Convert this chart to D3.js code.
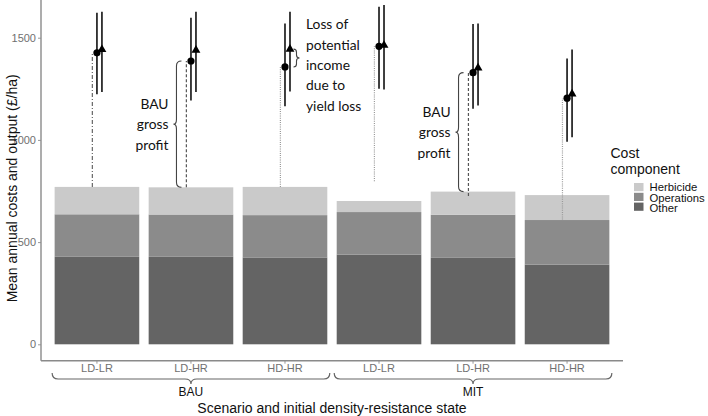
<!DOCTYPE html>
<html><head><meta charset="utf-8">
<script src="https://cdn.jsdelivr.net/npm/d3@7"></script>
<style>body{margin:0;background:#fff}svg{display:block}</style>
</head><body><svg id="c" width="708" height="416"></svg>
<script>
// ---- data ----
const categories = ["LD-LR","LD-HR","HD-HR","LD-LR","LD-HR","HD-HR"];
const scenarios = ["BAU","MIT"];
const scenarioOf = ["BAU","BAU","BAU","MIT","MIT","MIT"];
const components = ["Herbicide","Operations","Other"];
const other      = [428, 428, 425, 439, 423, 390];
const operations = [208, 207, 207, 208, 211, 218];
const herbicide  = [134, 133, 138, 54, 113, 122];
const circleVal  = [1426, 1386, 1357, 1458, 1329, 1204];
const circleLow  = [1223, 1193, 1165, 1250, 1152, 991];
const circleHigh = [1622, 1598, 1570, 1652, 1567, 1398];
const triVal     = [1442, 1439, 1444, 1463, 1352, 1225];
const triLow     = [1234, 1234, 1237, 1247, 1168, 1013];
const triHigh    = [1627, 1627, 1627, 1660, 1570, 1442];
const refLow     = [770, 768, 770, 798, 726, 610];
const refType    = ["dashdot","dashed","dotted","dotted","dashed","dotted"];
const yTicks = [0, 500, 1000, 1500];

const svg = d3.select("#c");
const pLeft = 41, pRight = 623, pTop = 0, pBottom = 360.7;
const idx = d3.range(categories.length);
const x = d3.scaleBand().domain(idx).range([pLeft, pRight]).paddingInner(0.1).paddingOuter(0.145);
const y = d3.scaleLinear().domain([0, 1500]).range([344.3, 37.7]);
const colors = {Herbicide:"#cacaca", Operations:"#8b8b8b", Other:"#646464"};
const annFont = "Lato, 'Open Sans', sans-serif";
const axFont = "'Liberation Sans', Arial, sans-serif";

// stacked bars
const rows = idx.map(i => ({i, Other: other[i], Operations: operations[i], Herbicide: herbicide[i]}));
const stack = d3.stack().keys(["Other","Operations","Herbicide"])(rows);
svg.append("g").selectAll("g").data(stack).join("g")
  .attr("fill", d => colors[d.key])
  .selectAll("rect").data(d => d).join("rect")
  .attr("x", d => x(d.data.i)).attr("width", x.bandwidth())
  .attr("y", d => y(d[1])).attr("height", d => y(d[0]) - y(d[1]));

// reference lines
const dashes = {dashdot:"4,2,1,2", dashed:"3,2", dotted:"1,1.2"};
const dashCol = {dashdot:"#666", dashed:"#555", dotted:"#999"};
svg.append("g").selectAll("line").data(idx).join("line")
  .attr("x1", i => x(i) + x.bandwidth()/2 - 4.6).attr("x2", i => x(i) + x.bandwidth()/2 - 4.6)
  .attr("y1", i => y(refLow[i])).attr("y2", i => y(circleVal[i]))
  .attr("stroke", i => dashCol[refType[i]]).attr("stroke-width", 1.2)
  .attr("stroke-dasharray", i => dashes[refType[i]]);

// error bars and points
const cx = i => x(i) + x.bandwidth()/2;
const g = svg.append("g");
g.selectAll("line.ec").data(idx).join("line").attr("class","ec")
  .attr("x1", i => cx(i)).attr("x2", i => cx(i))
  .attr("y1", i => y(circleLow[i])).attr("y2", i => y(circleHigh[i]))
  .attr("stroke", "#000").attr("stroke-width", 1.5);
g.selectAll("line.et").data(idx).join("line").attr("class","et")
  .attr("x1", i => cx(i) + 5).attr("x2", i => cx(i) + 5)
  .attr("y1", i => y(triLow[i])).attr("y2", i => y(triHigh[i]))
  .attr("stroke", "#000").attr("stroke-width", 1.5);
g.selectAll("circle").data(idx).join("circle")
  .attr("cx", i => cx(i)).attr("cy", i => y(circleVal[i])).attr("r", 3.6).attr("fill", "#000");
const tri = d3.symbol().type(d3.symbolTriangle).size(34);
g.selectAll("path.tri").data(idx).join("path").attr("class","tri")
  .attr("d", tri).attr("transform", i => `translate(${cx(i)+5},${y(triVal[i])})`).attr("fill", "#000");

// brace helper: along-axis a..b, tip at m; across: base(end), mid(line), tip
function bracePath(a, b, m, base, mid, tipc, r, vertical) {
  const sa = Math.sign(b - a);
  const P = (u, v) => vertical ? `${v},${u}` : `${u},${v}`;
  return `M${P(a, base)}Q${P(a, mid)} ${P(a + sa*r, mid)}L${P(m - sa*r, mid)}Q${P(m, mid)} ${P(m, tipc)}` +
         `M${P(b, base)}Q${P(b, mid)} ${P(b - sa*r, mid)}L${P(m + sa*r, mid)}Q${P(m, mid)} ${P(m, tipc)}`;
}
const braceG = svg.append("g").attr("fill","none").attr("stroke","#444").attr("stroke-width",1.1);
// BAU gross profit braces (bars 2 and 5)
[1, 4].forEach(i => {
  const t0 = y(circleVal[i]), b0 = y(other[i] + operations[i] + herbicide[i]);
  const lx = x(i) + x.bandwidth()/2 - 14.5;
  braceG.append("path").attr("d", bracePath(t0, b0, (t0+b0)/2, lx + 5, lx, lx - 3, 5, true));
  const t = svg.append("text").attr("text-anchor","end").attr("font-family", annFont)
    .attr("font-size", 13.8).attr("fill","#111");
  ["BAU","gross","profit"].forEach((s, k) => t.append("tspan").attr("x", lx - 8)
    .attr("y", (t0+b0)/2 - 20 + k*20.4).attr("dy","0.35em").text(s));
});
// Loss of potential income brace (bar 3)
{
  const i = 2, t1 = y(triVal[i]), c1 = y(circleVal[i]);
  const lx = x(i) + x.bandwidth()/2 + 11.5;
  braceG.append("path").attr("d", bracePath(t1, c1, (t1+c1)/2, lx - 3, lx, lx + 3, 3, true));
  const t = svg.append("text").attr("font-family", annFont)
    .attr("font-size", 13.8).attr("fill","#111");
  ["Loss of","potential","income","due to","yield loss"].forEach((s, k) => t.append("tspan")
    .attr("x", lx + 9.5).attr("y", 24.3 + k*20.4).attr("dy","0.35em").text(s));
}

// axes
const axisCol = "#8a8a8a";
const yAxis = svg.append("g").attr("transform", `translate(${pLeft},0)`)
  .call(d3.axisLeft(y).tickValues(yTicks).tickSize(3).tickPadding(2).tickFormat(d3.format("d")));
yAxis.select(".domain").remove();
svg.append("line").attr("x1", pLeft).attr("x2", pLeft).attr("y1", pTop).attr("y2", pBottom)
  .attr("stroke", axisCol).attr("stroke-width", 1.4);
const xAxis = svg.append("g").attr("transform", `translate(0,${pBottom})`)
  .call(d3.axisBottom(x).tickFormat(i => categories[i]).tickSize(3).tickPadding(1));
xAxis.select(".domain").remove();
svg.append("line").attr("x1", pLeft).attr("x2", pRight).attr("y1", pBottom).attr("y2", pBottom)
  .attr("stroke", axisCol).attr("stroke-width", 1.4);
[yAxis, xAxis].forEach(a => {
  a.attr("font-family", axFont);
  a.selectAll(".tick line").attr("stroke", "#999");
  a.selectAll(".tick text").attr("fill", "#707070").attr("font-size", 11);
});

// scenario braces below x axis
scenarios.forEach(s => {
  const ids = idx.filter(i => scenarioOf[i] === s);
  const a = x(ids[0]) - 2.5, b = x(ids[ids.length-1]) + x.bandwidth() + 2.5;
  const m = (x(ids[0]) + x(ids[ids.length-1]) + x.bandwidth()) / 2;
  svg.append("path").attr("fill","none").attr("stroke","#666").attr("stroke-width",1.2)
    .attr("d", bracePath(a, b, m, 373, 379, 384, 6, false));
  svg.append("text").attr("x", m).attr("y", 392).attr("dy","0.35em").attr("text-anchor","middle")
    .attr("font-family", axFont).attr("font-size", 12).attr("fill","#111").text(s);
});

// axis titles
svg.append("text").attr("x", (pLeft+pRight)/2).attr("y", 408).attr("dy","0.35em").attr("text-anchor","middle")
  .attr("font-family", axFont).attr("font-size", 14).attr("fill","#111")
  .text("Scenario and initial density-resistance state");
svg.append("text").attr("transform", `translate(12,${(pTop+pBottom)/2 + 8}) rotate(-90)`).attr("dy","0.35em")
  .attr("text-anchor","middle").attr("font-family", axFont)
  .attr("font-size", 14).attr("fill","#111").text("Mean annual costs and output (£/ha)");

// legend
const lg = svg.append("g").attr("font-family", axFont);
lg.append("text").attr("x", 610.5).attr("y", 153.5).attr("dy","0.35em").attr("font-size", 14).attr("fill","#111").text("Cost");
lg.append("text").attr("x", 610.5).attr("y", 169.5).attr("dy","0.35em").attr("font-size", 14).attr("fill","#111").text("component");
components.forEach((c, k) => {
  lg.append("rect").attr("x", 634).attr("y", 183 + k*9.8).attr("width", 9.5).attr("height", 8.2).attr("fill", colors[c]);
  lg.append("text").attr("x", 649.5).attr("y", 187.3 + k*10.5).attr("dy","0.35em").attr("font-size", 11.3).attr("fill","#111").text(c);
});
</script></body></html>
